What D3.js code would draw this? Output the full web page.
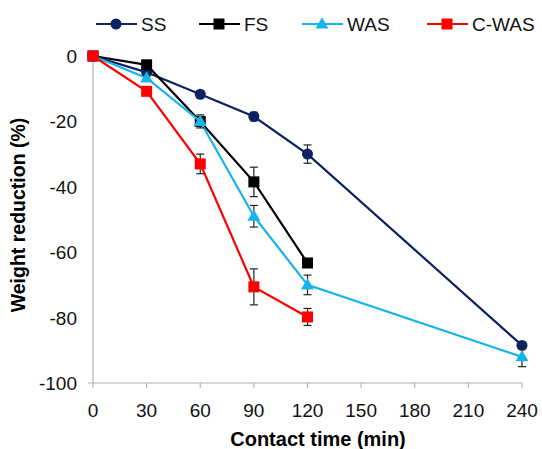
<!DOCTYPE html>
<html><head><meta charset="utf-8">
<script src="https://cdn.jsdelivr.net/npm/d3@7/dist/d3.min.js"></script>
<style>body{margin:0;background:#fff;}svg{display:block;font-family:"Liberation Sans",Arial,sans-serif;}</style>
</head><body>
<svg id="c" width="542" height="449"></svg>
<script>
const xTicks = [0, 30, 60, 90, 120, 150, 180, 210, 240];
const yTicks = [0, -20, -40, -60, -80, -100];
const seriesNames = ["SS", "FS", "WAS", "C-WAS"];
const ssTime = [0, 30, 60, 90, 120, 240];
const ssValues = [0, -5, -11.7, -18.5, -30, -88.5];
const ssErr = [0, 0.5, 1, 1.3, 2.8, 1];
const fsTime = [0, 30, 60, 90, 120];
const fsValues = [0, -2.7, -20, -38.5, -63.3];
const fsErr = [0, 0.5, 1.5, 4.5, 1];
const wasTime = [0, 30, 60, 90, 120, 240];
const wasValues = [0, -6.7, -20, -49, -70, -92];
const wasErr = [0, 0.8, 2, 3.3, 3, 3];
const cwasTime = [0, 30, 60, 90, 120];
const cwasValues = [0, -10.8, -33, -70.6, -79.8];
const cwasErr = [0, 0.8, 3, 5.5, 2.6];

const colors = {"SS": "#0d2163", "FS": "#000000", "WAS": "#17b3ec", "C-WAS": "#ff0000"};
const shapes = {"SS": "circle", "FS": "square", "WAS": "triangle", "C-WAS": "square"};
const data = [
  {name: "SS", t: ssTime, v: ssValues, e: ssErr},
  {name: "FS", t: fsTime, v: fsValues, e: fsErr},
  {name: "WAS", t: wasTime, v: wasValues, e: wasErr},
  {name: "C-WAS", t: cwasTime, v: cwasValues, e: cwasErr}
];

const svg = d3.select("#c");
const x = d3.scaleLinear().domain([0, 240]).range([93, 522]);
const y = d3.scaleLinear().domain([0, -100]).range([56, 383]);

// axes
const axisColor = "#b3b3b3";
svg.append("line").attr("x1", x(0)).attr("x2", x(0)).attr("y1", y(0)).attr("y2", y(-100))
  .attr("stroke", axisColor).attr("stroke-width", 1.2);
svg.append("line").attr("x1", x(0) - 5).attr("x2", x(240)).attr("y1", y(-100)).attr("y2", y(-100))
  .attr("stroke", axisColor).attr("stroke-width", 1.2);
xTicks.forEach(t => {
  svg.append("line").attr("x1", x(t)).attr("x2", x(t)).attr("y1", y(-100)).attr("y2", y(-100) + 5)
    .attr("stroke", axisColor).attr("stroke-width", 1.2);
});
svg.append("g").selectAll("text").data(xTicks).join("text")
  .attr("x", d => x(d)).attr("y", y(-100) + 34).attr("text-anchor", "middle")
  .attr("font-size", 19).attr("fill", "#111").text(d => d);
svg.append("g").selectAll("text").data(yTicks).join("text")
  .attr("x", 77).attr("y", d => y(d) + 7).attr("text-anchor", "end")
  .attr("font-size", 19).attr("fill", "#111").text(d => d);

svg.append("text").attr("x", 318).attr("y", 446).attr("text-anchor", "middle")
  .attr("font-size", 20).attr("font-weight", "bold").attr("fill", "#000").text("Contact time (min)");
svg.append("text").attr("transform", "translate(25,215) rotate(-90)").attr("text-anchor", "middle")
  .attr("font-size", 19.5).attr("font-weight", "bold").attr("fill", "#000").text("Weight reduction (%)");

function marker(g, shape, color, cx, cy) {
  if (shape === "circle") {
    g.append("circle").attr("cx", cx).attr("cy", cy).attr("r", 5.5).attr("fill", color);
  } else if (shape === "square") {
    g.append("rect").attr("x", cx - 5.5).attr("y", cy - 5.5).attr("width", 11).attr("height", 11).attr("fill", color);
  } else {
    const s = 13;
    const h = s * Math.sqrt(3) / 2;
    g.append("path").attr("d", `M${cx},${cy - h * 0.6}L${cx + s / 2},${cy + h * 0.4}L${cx - s / 2},${cy + h * 0.4}Z`).attr("fill", color);
  }
}

const line = d3.line().x(d => x(d[0])).y(d => y(d[1]));
data.forEach(s => {
  const pts = s.t.map((t, i) => [t, s.v[i], s.e[i]]);
  const g = svg.append("g");
  g.append("path").attr("d", line(pts)).attr("fill", "none").attr("stroke", colors[s.name]).attr("stroke-width", 2.2);
  pts.forEach(p => {
    if (p[2] > 0) {
      const x0 = x(p[0]), y1 = y(p[1] + p[2]), y2 = y(p[1] - p[2]);
      g.append("line").attr("x1", x0).attr("x2", x0).attr("y1", y1).attr("y2", y2).attr("stroke", "#222").attr("stroke-width", 1.2);
      g.append("line").attr("x1", x0 - 4).attr("x2", x0 + 4).attr("y1", y1).attr("y2", y1).attr("stroke", "#222").attr("stroke-width", 1.2);
      g.append("line").attr("x1", x0 - 4).attr("x2", x0 + 4).attr("y1", y2).attr("y2", y2).attr("stroke", "#222").attr("stroke-width", 1.2);
    }
  });
  pts.forEach(p => marker(g, shapes[s.name], colors[s.name], x(p[0]), y(p[1])));
});

// legend
const legX = [96, 199, 302, 427];
const legY = 24;
seriesNames.forEach((n, i) => {
  const g = svg.append("g");
  g.append("line").attr("x1", legX[i]).attr("x2", legX[i] + 41).attr("y1", legY).attr("y2", legY)
    .attr("stroke", colors[n]).attr("stroke-width", 2.2);
  marker(g, shapes[n], colors[n], legX[i] + 20, legY);
  g.append("text").attr("x", legX[i] + 45).attr("y", legY + 7).attr("font-size", 19).attr("fill", "#111").text(n);
});
</script>
</body></html>
